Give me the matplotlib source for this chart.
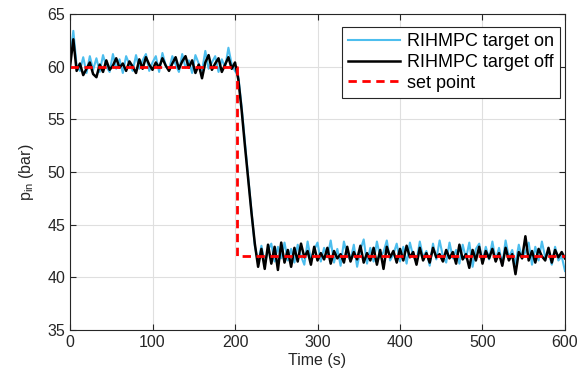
import numpy as np
import matplotlib.pyplot as plt

plt.rcParams['font.family'] = ['Liberation Sans', 'DejaVu Sans']
plt.rcParams['font.size'] = 11.5

# sample time (s), 4 s step
time = np.arange(0, 601, 4)

# RIHMPC target on (blue)
p_on = [
    60.6, 63.4, 60.1, 59.6, 60.9, 59.4, 61.0, 59.7, 60.8, 59.5,
    61.1, 60.0, 59.5, 61.2, 59.8, 60.7, 59.4, 61.0, 60.2, 59.6,
    61.1, 59.8, 60.6, 61.2, 59.6, 60.4, 61.0, 59.5, 61.3, 60.1,
    59.7, 61.0, 60.2, 59.5, 61.2, 59.9, 60.6, 59.4, 61.1, 60.3,
    59.6, 61.5, 59.8, 60.4, 61.0, 59.5, 60.7, 59.9, 61.8, 60.2,
    59.6,
    59.1, 56.2, 52.8, 49.5, 46.3, 43.0, 41.4,
    43.0, 41.3, 42.6, 43.2, 41.5, 42.9, 41.8, 43.3, 41.6, 42.7,
    41.4, 43.1, 42.0, 41.2, 43.4, 41.7, 42.6, 43.3, 41.5, 42.8,
    41.9, 43.5, 41.4, 42.7, 41.1, 43.4, 42.1, 41.6, 43.1, 41.0,
    42.6, 43.6, 41.3, 42.8, 41.5, 43.4, 41.9, 42.4, 43.5, 41.6,
    42.2, 43.2, 41.5, 42.9, 41.3, 43.3, 42.0, 41.5, 43.4, 41.9,
    42.5, 41.1, 43.2, 41.7, 43.5, 42.0, 41.4, 43.3, 41.8, 42.6,
    41.3, 43.1, 41.8, 43.3, 41.0, 42.7, 43.2, 41.5, 42.9, 41.7,
    43.4, 41.6, 42.8, 41.2, 43.5, 41.9, 42.6, 41.3, 43.1, 41.8,
    42.4, 43.3, 41.2, 42.9, 41.6, 43.4, 41.9, 42.5, 41.2, 42.9,
    41.6, 42.0, 40.6,
]

# RIHMPC target off (black)
p_off = [
    60.0, 62.6, 59.6, 60.3, 59.2, 59.8, 60.4, 59.3, 59.0, 60.2,
    59.5, 60.6, 59.7, 60.1, 60.8, 59.9, 60.3, 59.6, 60.5, 60.0,
    59.4, 60.7, 59.8, 60.9, 60.2, 59.7, 60.4, 59.9, 60.8, 60.1,
    59.6, 60.3, 60.9, 59.8, 60.5, 61.0, 59.9, 60.6, 59.4, 60.2,
    58.9, 60.4, 61.1, 59.7, 60.3, 60.8, 59.5, 60.2, 60.9, 59.8,
    60.4,
    58.8, 55.9, 52.5, 49.3, 46.1, 43.2, 41.0,
    42.7, 40.8, 43.1, 41.3, 42.9, 40.7, 43.3, 41.4, 42.6, 41.0,
    42.8, 41.5, 43.2, 41.9, 42.5, 41.2, 42.9, 41.6, 42.3, 41.7,
    42.8, 41.3, 42.5, 41.8, 42.2, 41.4, 42.9, 41.5, 42.4, 41.7,
    43.0, 41.4, 42.3, 41.6, 42.8, 41.2, 42.6, 40.8, 42.9, 41.9,
    42.5, 41.4, 42.7, 41.6, 43.0, 41.9, 42.4, 41.2, 42.8, 41.6,
    42.3, 41.4, 42.8, 41.9, 42.2, 41.5, 42.6, 41.8, 42.4, 41.3,
    43.1, 41.7, 42.2, 40.9, 42.6, 41.6, 42.9, 41.3, 42.5, 41.8,
    42.7, 41.5, 42.3, 41.1, 42.8, 41.6, 42.2, 40.3, 42.4, 41.8,
    43.9, 41.6, 42.5, 41.4, 42.7, 42.0, 41.6, 42.8, 41.4, 42.6,
    41.9, 42.4, 41.8,
]

# set point
sp_time = [0, 202, 202, 600]
sp_value = [60, 60, 42, 42]

fig = plt.figure(figsize=(5.85, 3.83), dpi=100)
ax = fig.add_axes([0.1197, 0.1384, 0.8461, 0.825])

ax.plot(time, p_on, color='#4DBEEE', linewidth=1.5, label='RIHMPC target on')
ax.plot(time, p_off, color='black', linewidth=1.8, label='RIHMPC target off')
ax.plot(sp_time, sp_value, color='red', linestyle='--', linewidth=2, dashes=(3, 2), label='set point')

ax.set_xlim(0, 600)
ax.set_ylim(35, 65)
ax.set_xticks(range(0, 601, 100))
ax.set_yticks(range(35, 66, 5))
ax.set_xlabel('Time (s)', color='#262626', labelpad=2)
ax.set_ylabel(r'p$_\mathregular{in}$ (bar)', color='#262626', labelpad=8)

ax.grid(True, color='#dfdfdf', linewidth=0.8)
ax.set_axisbelow(True)
ax.tick_params(direction='in', length=4, colors='#262626', top=True, right=True)
ax.tick_params(labeltop=False, labelright=False)
for s in ax.spines.values():
    s.set_color('#262626')
    s.set_linewidth(0.8)

leg = ax.legend(loc='upper right', bbox_to_anchor=(0.99, 0.959), fancybox=False,
                framealpha=1, edgecolor='#262626', handlelength=2.9, fontsize=13,
                borderpad=0.35, labelspacing=0.2, handletextpad=0.35,
                borderaxespad=0)
leg.get_frame().set_linewidth(0.8)

fig.savefig('out.png', dpi=100)
